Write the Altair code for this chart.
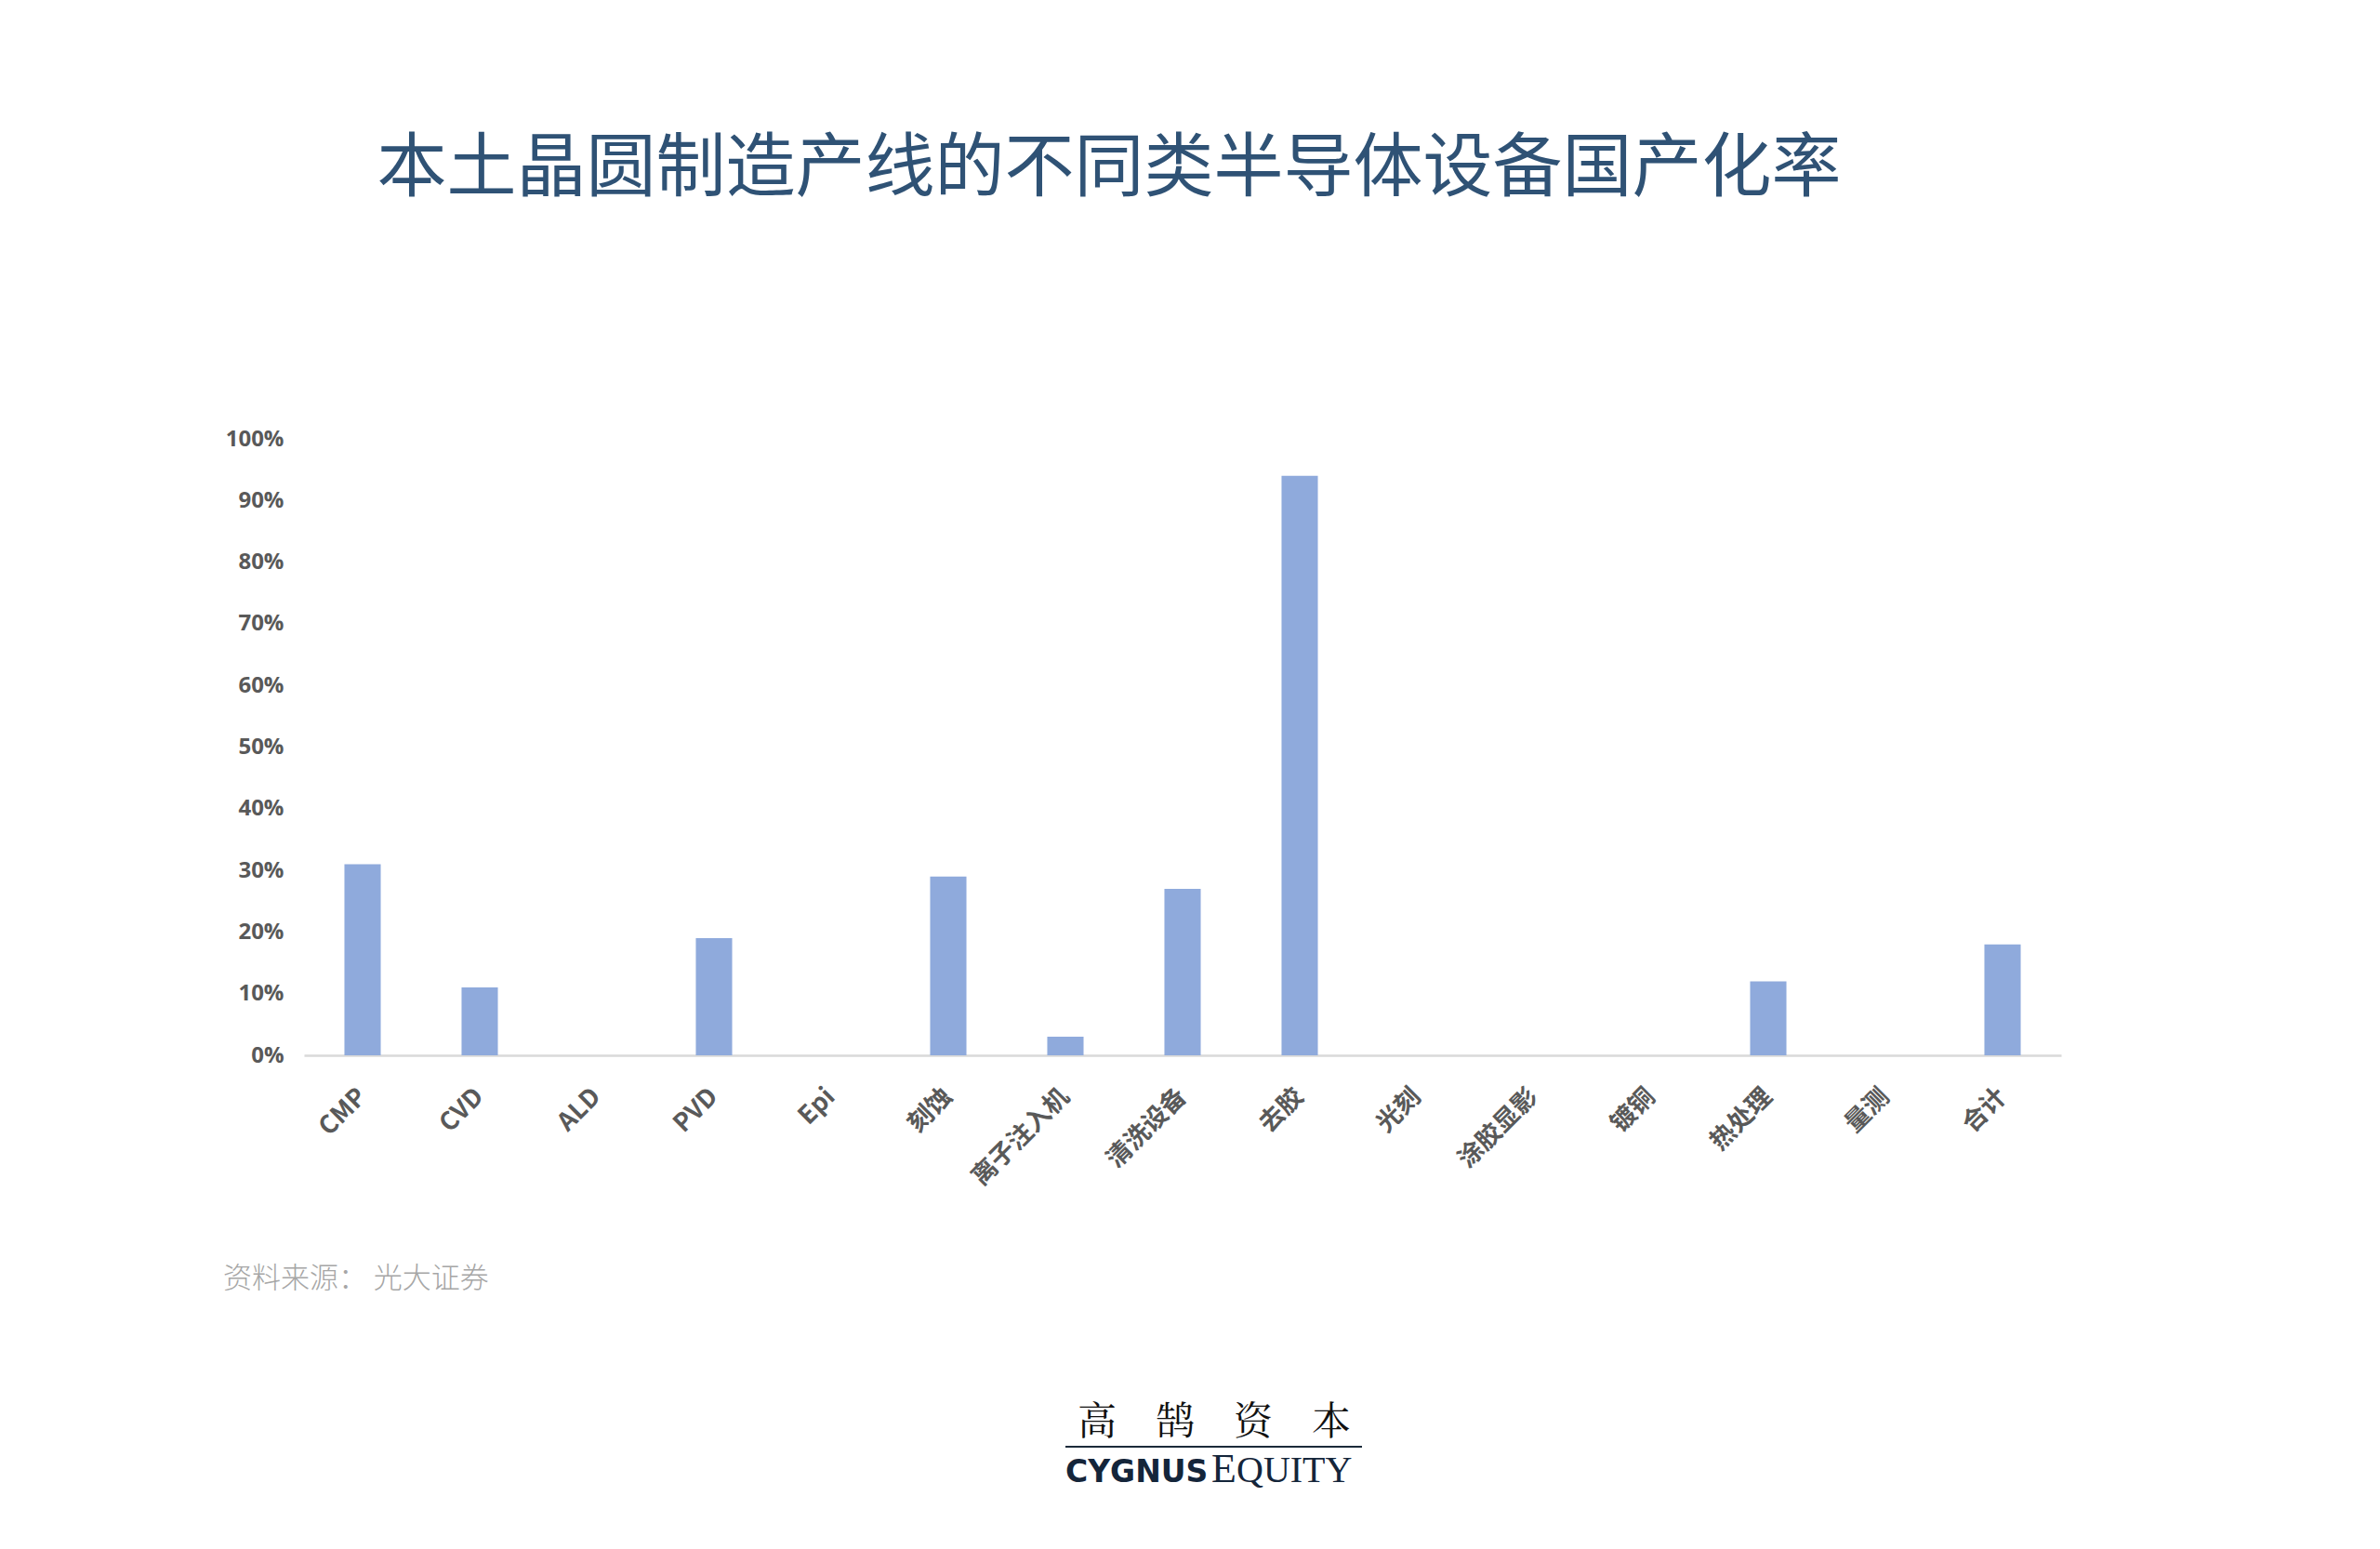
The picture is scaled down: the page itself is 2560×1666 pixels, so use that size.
import altair as alt
import pandas as pd

# ---- data ----
categories = ["CMP", "CVD", "ALD", "PVD", "Epi", "刻蚀", "离子注入机", "清洗设备",
              "去胶", "光刻", "涂胶显影", "镀铜", "热处理", "量测", "合计"]
values = [0.31, 0.11, 0.0, 0.19, 0.0, 0.29, 0.03, 0.27,
          0.94, 0.0, 0.0, 0.0, 0.12, 0.0, 0.18]
y_ticks = [0.0, 0.1, 0.2, 0.3, 0.4, 0.5, 0.6, 0.7, 0.8, 0.9, 1.0]

title_text = "本土晶圆制造产线的不同类半导体设备国产化率"
source_text = "资料来源： 光大证券"
logo_cn = "高　鹄　资　本"
logo_en1 = "CYGNUS"
logo_en2a = "E"
logo_en2b = "QUITY"

W, H = 1890, 663
CJK = "Noto Sans CJK SC"

df = pd.DataFrame({"cat": categories, "val": values})

bars = alt.Chart(df).mark_bar(color="#8FAADC").encode(
    x=alt.X("cat:N", sort=categories,
            scale=alt.Scale(paddingInner=0.69, paddingOuter=0.345),
            axis=alt.Axis(title=None, labelAngle=-45, labelAlign="right",
                          labelBaseline="middle", labelFont=CJK, labelFontSize=27,
                          labelFontWeight="bold",
                          labelColor="#595959", labelPadding=40, ticks=False,
                          labelOverlap=False, labelLimit=400,
                          domainColor="#D9D9D9", domainWidth=2.5)),
    y=alt.Y("val:Q", scale=alt.Scale(domain=[0, 1]),
            axis=alt.Axis(title=None, values=y_ticks, format=".0%", grid=False,
                          domain=False, ticks=False, labelFont="Open Sans",
                          labelFontWeight="bold", labelFontSize=24,
                          labelColor="#595959", labelPadding=22)),
)


def txt(text, x, y, **kw):
    return alt.Chart(pd.DataFrame({"t": [text]})).mark_text(**kw).encode(
        x=alt.value(x), y=alt.value(y), text="t:N")


title = txt(title_text, 866, -290, font=CJK, fontSize=75, color="#2F5275",
            align="center", baseline="middle")
source = txt(source_text, -87, 904, font=CJK, fontSize=31, color="#A6A6A6",
             align="left", baseline="middle", fontWeight=300)
logo1 = txt(logo_cn, 979, 1058, font="Noto Serif CJK SC, " + CJK, fontSize=42,
            color="#111111", align="center", baseline="middle")
rule = alt.Chart(pd.DataFrame({"a": [0]})).mark_rule(color="#1B2A3A", strokeWidth=2).encode(
    x=alt.value(819), x2=alt.value(1138), y=alt.value(1084))
logo2 = txt(logo_en1, 819, 1122, font="DejaVu Sans", fontWeight="bold", fontSize=33,
            color="#14253A", align="left", baseline="alphabetic")
logo3 = txt(logo_en2a, 976, 1122, font="Liberation Serif", fontSize=44,
            color="#14253A", align="left", baseline="alphabetic")
logo4 = txt(logo_en2b, 1003, 1122, font="Liberation Serif", fontSize=40,
            color="#14253A", align="left", baseline="alphabetic")

chart = alt.layer(bars, title, source, logo1, rule, logo2, logo3, logo4).properties(
    width=W, height=H,
    background="white",
    autosize=alt.AutoSizeParams(type="none"),
    padding={"left": 319, "top": 464, "right": 320, "bottom": 500},
).configure_view(strokeWidth=0, stroke="transparent")

chart.save("out.html", embed_options={"renderer": "svg", "actions": False})
